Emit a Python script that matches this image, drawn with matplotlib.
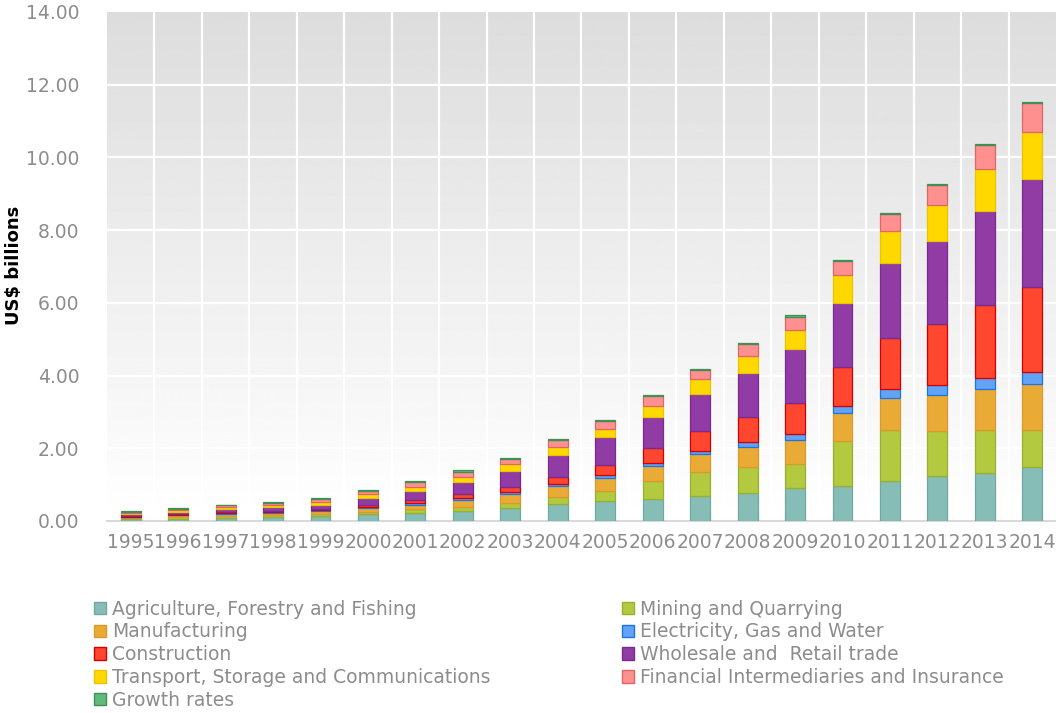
import matplotlib

matplotlib.use("Agg")
import matplotlib.pyplot as plt
import numpy as np
from matplotlib.patches import Patch

YEARS = [str(y) for y in range(1995, 2015)]

SECTORS = [
    "Agriculture, Forestry and Fishing",
    "Mining and Quarrying",
    "Manufacturing",
    "Electricity, Gas and Water",
    "Construction",
    "Wholesale and  Retail trade",
    "Transport, Storage and Communications",
    "Financial Intermediaries and Insurance",
    "Growth rates",
]

# US$ billions per sector, 1995..2014
AGRICULTURE = [0.05, 0.06, 0.09, 0.11, 0.13, 0.18, 0.23, 0.27, 0.35, 0.46,
               0.55, 0.61, 0.69, 0.76, 0.90, 0.96, 1.11, 1.24, 1.31, 1.48]
MINING = [0.03, 0.05, 0.05, 0.06, 0.06, 0.08, 0.09, 0.11, 0.14, 0.20,
          0.27, 0.48, 0.65, 0.72, 0.67, 1.25, 1.39, 1.24, 1.19, 1.02]
MANUFACTURING = [0.03, 0.05, 0.06, 0.06, 0.08, 0.10, 0.12, 0.20, 0.25, 0.30,
                 0.36, 0.42, 0.49, 0.56, 0.66, 0.75, 0.87, 0.99, 1.12, 1.27]
ELECTRICITY = [0.01, 0.01, 0.02, 0.02, 0.02, 0.03, 0.05, 0.04, 0.05, 0.06,
               0.08, 0.09, 0.10, 0.13, 0.15, 0.20, 0.25, 0.27, 0.32, 0.34]
CONSTRUCTION = [0.02, 0.03, 0.03, 0.03, 0.04, 0.04, 0.09, 0.11, 0.14, 0.20,
                0.27, 0.40, 0.54, 0.68, 0.86, 1.07, 1.40, 1.67, 1.99, 2.32]
WHOLESALE = [0.06, 0.06, 0.08, 0.11, 0.12, 0.21, 0.25, 0.33, 0.45, 0.60,
             0.77, 0.87, 1.02, 1.23, 1.50, 1.77, 2.08, 2.29, 2.60, 2.98]
TRANSPORT = [0.03, 0.04, 0.05, 0.05, 0.07, 0.10, 0.11, 0.16, 0.18, 0.21,
             0.24, 0.29, 0.41, 0.47, 0.51, 0.76, 0.88, 0.99, 1.14, 1.30]
FINANCE = [0.03, 0.04, 0.05, 0.06, 0.08, 0.09, 0.12, 0.14, 0.15, 0.20,
           0.21, 0.27, 0.25, 0.31, 0.37, 0.39, 0.45, 0.54, 0.66, 0.78]
GROWTH = [0.01, 0.02, 0.02, 0.02, 0.02, 0.02, 0.04, 0.03, 0.02, 0.03,
          0.03, 0.03, 0.03, 0.04, 0.04, 0.03, 0.03, 0.03, 0.04, 0.03]

SERIES = [AGRICULTURE, MINING, MANUFACTURING, ELECTRICITY, CONSTRUCTION,
          WHOLESALE, TRANSPORT, FINANCE, GROWTH]

FACE_COLORS = ["#86bdb7", "#b3c940", "#eaab36", "#62a3f5", "#ff462e",
               "#913ca5", "#ffd800", "#ff9090", "#62b97c"]
EDGE_COLORS = ["#6fa8a0", "#98b02f", "#dd982b", "#1a75e8", "#d00000",
               "#7a2a8f", "#e8c400", "#e06565", "#3f8f57"]

TEXT_GRAY = "#8c8c8c"


def main() -> None:
    fig = plt.figure(figsize=(10.56, 7.13), dpi=100)
    ax = fig.add_axes([0.1013, 0.2693, 0.8987, 0.7139])

    n = len(YEARS)
    x = np.arange(n)

    # white at the baseline fading to light gray at the top
    grad = np.linspace(1.0, 0.865, 256).reshape(-1, 1)
    ax.imshow(grad, cmap="gray", vmin=0, vmax=1, aspect="auto",
              extent=(-0.5, n - 0.5, 0, 14), origin="lower", zorder=0)
    ax.set_xlim(-0.5, n - 0.5)
    ax.set_ylim(0, 14)

    for yv in np.arange(2, 14, 2):
        ax.axhline(yv, color="white", linewidth=1.6, zorder=1)
    for xv in np.arange(0.5, n - 0.5, 1):
        ax.axvline(xv, color="white", linewidth=1.6, zorder=1)

    bottom = np.zeros(n)
    for values, face, edge in zip(SERIES, FACE_COLORS, EDGE_COLORS):
        values = np.array(values)
        ax.bar(x, values, width=0.42, bottom=bottom, color=face,
               edgecolor=edge, linewidth=0.9, zorder=3)
        bottom += values

    for side in ["left", "right", "top"]:
        ax.spines[side].set_visible(False)
    ax.spines["bottom"].set_color("#d9d9d9")
    ax.spines["bottom"].set_linewidth(1.5)

    ax.set_yticks(np.arange(0, 15, 2))
    ax.set_yticklabels([f"{v:.2f}" for v in np.arange(0, 15, 2)])
    ax.set_xticks(x)
    ax.set_xticklabels(YEARS)
    ax.tick_params(axis="both", length=0, labelsize=13.5, colors=TEXT_GRAY)
    ax.tick_params(axis="y", pad=20)
    ax.tick_params(axis="x", pad=9)

    fig.text(0.013, 0.628, "US$ billions", rotation=90, ha="center",
             va="center", fontsize=13, fontweight="bold", color="black")

    handles = [Patch(facecolor=f, edgecolor=e, linewidth=1.0)
               for f, e in zip(FACE_COLORS, EDGE_COLORS)]
    left_idx = [0, 2, 4, 6, 8]
    right_idx = [1, 3, 5, 7]
    common = dict(frameon=False, fontsize=13.5, labelcolor=TEXT_GRAY,
                  handlelength=0.65, handleheight=0.65, handletextpad=0.3,
                  labelspacing=0.2, borderaxespad=0, borderpad=0,
                  loc="upper left")
    fig.legend([handles[i] for i in left_idx], [SECTORS[i] for i in left_idx],
               bbox_to_anchor=(0.089, 0.159), **common)
    fig.legend([handles[i] for i in right_idx], [SECTORS[i] for i in right_idx],
               bbox_to_anchor=(0.589, 0.159), **common)

    fig.savefig("out.png", dpi=100)
    plt.close(fig)


if __name__ == "__main__":
    main()
